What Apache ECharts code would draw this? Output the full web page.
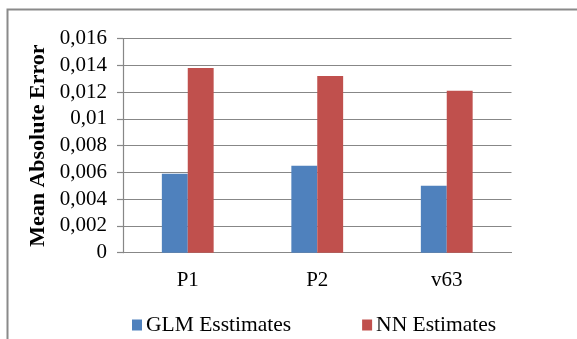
<!DOCTYPE html>
<html>
<head>
<meta charset="utf-8">
<script src="https://cdn.jsdelivr.net/npm/echarts@6/dist/echarts.min.js"></script>
<style>
html,body{margin:0;padding:0;background:#fff;}
#chart{width:577px;height:339px;}
</style>
</head>
<body>
<div id="chart"></div>
<script>
const categories = ['P1', 'P2', 'v63'];
const glmValues = [0.0059, 0.0065, 0.0050];
const nnValues = [0.0138, 0.0132, 0.0121];
const seriesNames = ['GLM Esstimates', 'NN Estimates'];
const yTickLabels = ['0', '0,002', '0,004', '0,006', '0,008', '0,01', '0,012', '0,014', '0,016'];
const yAxisTitle = 'Mean Absolute Error';

const FONT = 'Liberation Serif';
const chart = echarts.init(document.getElementById('chart'), null, {renderer: 'canvas'});
chart.setOption({
  animation: false,
  backgroundColor: '#fff',
  textStyle: {fontFamily: FONT},
  graphic: [{
    type: 'rect',
    shape: {x: 7.5, y: 9.5, width: 600, height: 400},
    style: {fill: 'none', stroke: '#8a8a8a', lineWidth: 2},
    silent: true
  }],
  grid: {left: 123, right: 65.5, top: 38.5, bottom: 86.3, containLabel: false},
  legend: {
    data: seriesNames,
    left: 127, top: 309,
    itemWidth: 10, itemHeight: 11, itemGap: 71,
    icon: 'rect',
    textStyle: {fontFamily: FONT, fontSize: 21.5, color: '#000', padding: [0, 0, 0, -1]}
  },
  xAxis: {
    type: 'category',
    data: categories,
    axisLine: {show: true, lineStyle: {color: '#878787', width: 1.2}},
    axisTick: {show: false},
    axisLabel: {fontFamily: FONT, fontSize: 21, color: '#000', margin: 17}
  },
  yAxis: {
    type: 'value',
    min: 0, max: 0.016, interval: 0.002,
    name: yAxisTitle,
    nameLocation: 'middle',
    nameGap: 73,
    nameTextStyle: {fontFamily: FONT, fontSize: 22, fontWeight: 'bold', color: '#000'},
    axisLine: {show: true, lineStyle: {color: '#878787', width: 1.2}},
    axisTick: {show: true, inside: false, length: 6, lineStyle: {color: '#878787', width: 1.2}},
    splitLine: {show: true, lineStyle: {color: '#878787', width: 1.2}},
    axisLabel: {
      fontFamily: FONT, fontSize: 21, color: '#000', margin: 16,
      formatter: function (v) { return yTickLabels[Math.round(v / 0.002)]; }
    }
  },
  series: [
    {name: seriesNames[0], type: 'bar', data: glmValues, barGap: '0%', barCategoryGap: '60%', itemStyle: {color: '#4F81BD'}},
    {name: seriesNames[1], type: 'bar', data: nnValues, barGap: '0%', barCategoryGap: '60%', itemStyle: {color: '#C0504D'}}
  ]
});
</script>
</body>
</html>
